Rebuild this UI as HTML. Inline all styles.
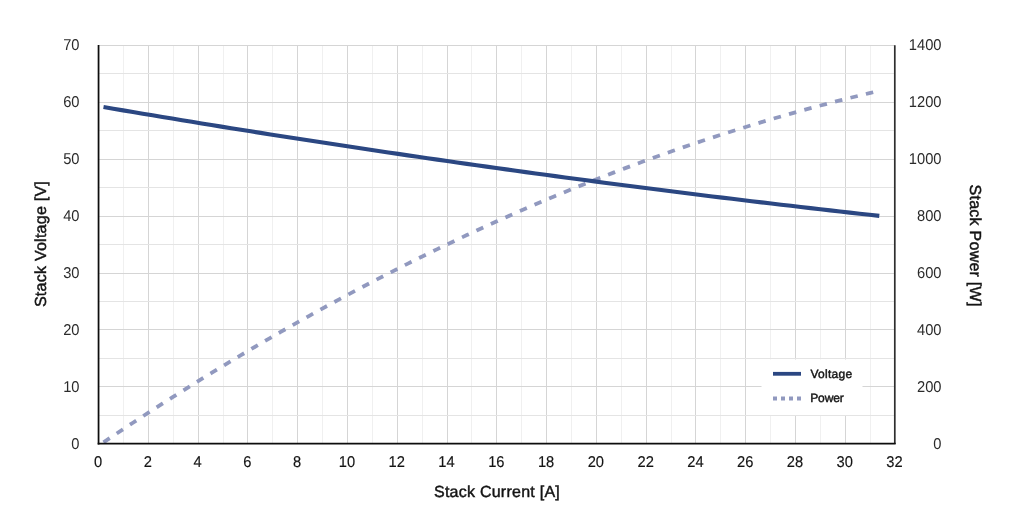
<!DOCTYPE html>
<html><head><meta charset="utf-8"><style>
html,body{margin:0;padding:0;background:#fff;}
body{width:1022px;height:521px;overflow:hidden;}
svg{display:block;will-change:transform;text-rendering:geometricPrecision;font-family:"Liberation Sans",sans-serif;}
</style></head><body>
<svg width="1022" height="521" viewBox="0 0 1022 521">
<rect width="1022" height="521" fill="#fff"/>
<g><line x1="123.5" y1="45" x2="123.5" y2="443" stroke="#f0f0f0" stroke-width="1"/><line x1="148.5" y1="45" x2="148.5" y2="443" stroke="#d5d5d5" stroke-width="1"/><line x1="173.5" y1="45" x2="173.5" y2="443" stroke="#f0f0f0" stroke-width="1"/><line x1="198.5" y1="45" x2="198.5" y2="443" stroke="#d5d5d5" stroke-width="1"/><line x1="223.5" y1="45" x2="223.5" y2="443" stroke="#f0f0f0" stroke-width="1"/><line x1="247.5" y1="45" x2="247.5" y2="443" stroke="#d5d5d5" stroke-width="1"/><line x1="272.5" y1="45" x2="272.5" y2="443" stroke="#f0f0f0" stroke-width="1"/><line x1="297.5" y1="45" x2="297.5" y2="443" stroke="#d5d5d5" stroke-width="1"/><line x1="322.5" y1="45" x2="322.5" y2="443" stroke="#f0f0f0" stroke-width="1"/><line x1="347.5" y1="45" x2="347.5" y2="443" stroke="#d5d5d5" stroke-width="1"/><line x1="372.5" y1="45" x2="372.5" y2="443" stroke="#f0f0f0" stroke-width="1"/><line x1="397.5" y1="45" x2="397.5" y2="443" stroke="#d5d5d5" stroke-width="1"/><line x1="422.5" y1="45" x2="422.5" y2="443" stroke="#f0f0f0" stroke-width="1"/><line x1="447.5" y1="45" x2="447.5" y2="443" stroke="#d5d5d5" stroke-width="1"/><line x1="471.5" y1="45" x2="471.5" y2="443" stroke="#f0f0f0" stroke-width="1"/><line x1="496.5" y1="45" x2="496.5" y2="443" stroke="#d5d5d5" stroke-width="1"/><line x1="521.5" y1="45" x2="521.5" y2="443" stroke="#f0f0f0" stroke-width="1"/><line x1="546.5" y1="45" x2="546.5" y2="443" stroke="#d5d5d5" stroke-width="1"/><line x1="571.5" y1="45" x2="571.5" y2="443" stroke="#f0f0f0" stroke-width="1"/><line x1="596.5" y1="45" x2="596.5" y2="443" stroke="#d5d5d5" stroke-width="1"/><line x1="621.5" y1="45" x2="621.5" y2="443" stroke="#f0f0f0" stroke-width="1"/><line x1="646.5" y1="45" x2="646.5" y2="443" stroke="#d5d5d5" stroke-width="1"/><line x1="671.5" y1="45" x2="671.5" y2="443" stroke="#f0f0f0" stroke-width="1"/><line x1="695.5" y1="45" x2="695.5" y2="443" stroke="#d5d5d5" stroke-width="1"/><line x1="720.5" y1="45" x2="720.5" y2="443" stroke="#f0f0f0" stroke-width="1"/><line x1="745.5" y1="45" x2="745.5" y2="443" stroke="#d5d5d5" stroke-width="1"/><line x1="770.5" y1="45" x2="770.5" y2="443" stroke="#f0f0f0" stroke-width="1"/><line x1="795.5" y1="45" x2="795.5" y2="443" stroke="#d5d5d5" stroke-width="1"/><line x1="820.5" y1="45" x2="820.5" y2="443" stroke="#f0f0f0" stroke-width="1"/><line x1="845.5" y1="45" x2="845.5" y2="443" stroke="#d5d5d5" stroke-width="1"/><line x1="870.5" y1="45" x2="870.5" y2="443" stroke="#f0f0f0" stroke-width="1"/><line x1="98" y1="415.5" x2="895" y2="415.5" stroke="#e4e4e4" stroke-width="1"/><line x1="98" y1="386.5" x2="895" y2="386.5" stroke="#d5d5d5" stroke-width="1"/><line x1="98" y1="358.5" x2="895" y2="358.5" stroke="#e4e4e4" stroke-width="1"/><line x1="98" y1="329.5" x2="895" y2="329.5" stroke="#d5d5d5" stroke-width="1"/><line x1="98" y1="301.5" x2="895" y2="301.5" stroke="#e4e4e4" stroke-width="1"/><line x1="98" y1="273.5" x2="895" y2="273.5" stroke="#d5d5d5" stroke-width="1"/><line x1="98" y1="244.5" x2="895" y2="244.5" stroke="#e4e4e4" stroke-width="1"/><line x1="98" y1="216.5" x2="895" y2="216.5" stroke="#d5d5d5" stroke-width="1"/><line x1="98" y1="187.5" x2="895" y2="187.5" stroke="#e4e4e4" stroke-width="1"/><line x1="98" y1="159.5" x2="895" y2="159.5" stroke="#d5d5d5" stroke-width="1"/><line x1="98" y1="130.5" x2="895" y2="130.5" stroke="#e4e4e4" stroke-width="1"/><line x1="98" y1="102.5" x2="895" y2="102.5" stroke="#d5d5d5" stroke-width="1"/><line x1="98" y1="73.5" x2="895" y2="73.5" stroke="#e4e4e4" stroke-width="1"/><line x1="98" y1="45.5" x2="895" y2="45.5" stroke="#d5d5d5" stroke-width="1"/></g>
<rect x="761.5" y="359.5" width="101" height="55.5" fill="#fff"/>
<path d="M103.50,442.33 L113.32,435.74 L123.14,429.21 L132.96,422.74 L142.78,416.32 L152.60,409.96 L162.42,403.65 L172.24,397.39 L182.06,391.19 L191.88,385.04 L201.70,378.95 L211.52,372.91 L221.34,366.93 L231.16,361.00 L240.98,355.13 L250.80,349.31 L260.62,343.54 L270.44,337.83 L280.26,332.18 L290.08,326.58 L299.91,321.03 L309.73,315.54 L319.55,310.10 L329.37,304.72 L339.19,299.39 L349.01,294.11 L358.83,288.89 L368.65,283.73 L378.47,278.62 L388.29,273.56 L398.11,268.56 L407.93,263.62 L417.75,258.72 L427.57,253.89 L437.39,249.10 L447.21,244.38 L457.03,239.70 L466.85,235.08 L476.67,230.52 L486.49,226.01 L496.31,221.55 L506.13,217.15 L515.95,212.81 L525.77,208.51 L535.59,204.28 L545.41,200.09 L555.23,195.96 L565.05,191.89 L574.87,187.87 L584.69,183.91 L594.51,180.00 L604.33,176.15 L614.15,172.37 L623.97,168.64 L633.79,164.96 L643.61,161.34 L653.43,157.78 L663.25,154.27 L673.07,150.81 L682.89,147.41 L692.72,144.06 L702.54,140.77 L712.36,137.53 L722.18,134.35 L732.00,131.22 L741.82,128.15 L751.64,125.13 L761.46,122.16 L771.28,119.25 L781.10,116.40 L790.92,113.59 L800.74,110.85 L810.56,108.15 L820.38,105.52 L830.20,102.93 L840.02,100.41 L849.84,97.93 L859.66,95.51 L869.48,93.15 L879.30,90.84" fill="none" stroke="#9199bf" stroke-width="3.8" stroke-dasharray="7.5 8.4"/>
<path d="M103.50,107.06 L113.32,108.73 L123.14,110.39 L132.96,112.05 L142.78,113.69 L152.60,115.33 L162.42,116.97 L172.24,118.59 L182.06,120.21 L191.88,121.82 L201.70,123.42 L211.52,125.02 L221.34,126.61 L231.16,128.19 L240.98,129.76 L250.80,131.33 L260.62,132.88 L270.44,134.43 L280.26,135.98 L290.08,137.51 L299.91,139.04 L309.73,140.56 L319.55,142.07 L329.37,143.58 L339.19,145.08 L349.01,146.57 L358.83,148.05 L368.65,149.52 L378.47,150.99 L388.29,152.45 L398.11,153.90 L407.93,155.35 L417.75,156.79 L427.57,158.22 L437.39,159.64 L447.21,161.05 L457.03,162.46 L466.85,163.86 L476.67,165.25 L486.49,166.64 L496.31,168.02 L506.13,169.39 L515.95,170.75 L525.77,172.10 L535.59,173.45 L545.41,174.79 L555.23,176.12 L565.05,177.45 L574.87,178.76 L584.69,180.07 L594.51,181.37 L604.33,182.67 L614.15,183.96 L623.97,185.24 L633.79,186.51 L643.61,187.77 L653.43,189.03 L663.25,190.28 L673.07,191.52 L682.89,192.75 L692.72,193.98 L702.54,195.20 L712.36,196.41 L722.18,197.62 L732.00,198.81 L741.82,200.00 L751.64,201.18 L761.46,202.36 L771.28,203.52 L781.10,204.68 L790.92,205.83 L800.74,206.98 L810.56,208.11 L820.38,209.24 L830.20,210.37 L840.02,211.48 L849.84,212.59 L859.66,213.68 L869.48,214.78 L879.30,215.86" fill="none" stroke="#2b4782" stroke-width="4.1"/>
<line x1="894.8" y1="45.2" x2="894.8" y2="444" stroke="#2e2e2e" stroke-width="1.7"/>
<line x1="98.55" y1="45" x2="98.55" y2="444.6" stroke="#0d0d0d" stroke-width="1.75"/>
<line x1="97.7" y1="443.65" x2="895.65" y2="443.65" stroke="#0d0d0d" stroke-width="1.9"/>
<line x1="773" y1="373.8" x2="801" y2="373.8" stroke="#2b4782" stroke-width="3.8"/>
<line x1="773" y1="398.5" x2="801" y2="398.5" stroke="#9199bf" stroke-width="4" stroke-dasharray="4 4"/>
<g font-size="12" fill="#161616" stroke="#161616" stroke-width="0.45">
<text x="810.4" y="378.2" letter-spacing="0.3">Voltage</text>
<text x="810.2" y="401.9" letter-spacing="-0.1">Power</text>
</g>
<g font-size="15" fill="#2b2b2b"><text transform="translate(79.5,448.98) scale(0.98,1.05)" text-anchor="end">0</text><text transform="translate(941.5,448.98) scale(0.98,1.05)" text-anchor="end">0</text><text transform="translate(79.5,391.97) scale(0.98,1.05)" text-anchor="end">10</text><text transform="translate(941.5,391.97) scale(0.98,1.05)" text-anchor="end">200</text><text transform="translate(79.5,334.97) scale(0.98,1.05)" text-anchor="end">20</text><text transform="translate(941.5,334.97) scale(0.98,1.05)" text-anchor="end">400</text><text transform="translate(79.5,277.96) scale(0.98,1.05)" text-anchor="end">30</text><text transform="translate(941.5,277.96) scale(0.98,1.05)" text-anchor="end">600</text><text transform="translate(79.5,220.96) scale(0.98,1.05)" text-anchor="end">40</text><text transform="translate(941.5,220.96) scale(0.98,1.05)" text-anchor="end">800</text><text transform="translate(79.5,163.95) scale(0.98,1.05)" text-anchor="end">50</text><text transform="translate(941.5,163.95) scale(0.98,1.05)" text-anchor="end">1000</text><text transform="translate(79.5,106.94) scale(0.98,1.05)" text-anchor="end">60</text><text transform="translate(941.5,106.94) scale(0.98,1.05)" text-anchor="end">1200</text><text transform="translate(79.5,49.94) scale(0.98,1.05)" text-anchor="end">70</text><text transform="translate(941.5,49.94) scale(0.98,1.05)" text-anchor="end">1400</text></g>
<g font-size="15" fill="#141414" stroke="#141414" stroke-width="0.15"><text transform="translate(98.07,466.8) scale(0.98,1.05)" text-anchor="middle">0</text><text transform="translate(147.85,466.8) scale(0.98,1.05)" text-anchor="middle">2</text><text transform="translate(197.63,466.8) scale(0.98,1.05)" text-anchor="middle">4</text><text transform="translate(247.41,466.8) scale(0.98,1.05)" text-anchor="middle">6</text><text transform="translate(297.19,466.8) scale(0.98,1.05)" text-anchor="middle">8</text><text transform="translate(346.97,466.8) scale(0.98,1.05)" text-anchor="middle">10</text><text transform="translate(396.75,466.8) scale(0.98,1.05)" text-anchor="middle">12</text><text transform="translate(446.53,466.8) scale(0.98,1.05)" text-anchor="middle">14</text><text transform="translate(496.31,466.8) scale(0.98,1.05)" text-anchor="middle">16</text><text transform="translate(546.09,466.8) scale(0.98,1.05)" text-anchor="middle">18</text><text transform="translate(595.87,466.8) scale(0.98,1.05)" text-anchor="middle">20</text><text transform="translate(645.65,466.8) scale(0.98,1.05)" text-anchor="middle">22</text><text transform="translate(695.43,466.8) scale(0.98,1.05)" text-anchor="middle">24</text><text transform="translate(745.21,466.8) scale(0.98,1.05)" text-anchor="middle">26</text><text transform="translate(794.99,466.8) scale(0.98,1.05)" text-anchor="middle">28</text><text transform="translate(844.77,466.8) scale(0.98,1.05)" text-anchor="middle">30</text><text transform="translate(894.55,466.8) scale(0.98,1.05)" text-anchor="middle">32</text></g>
<g font-size="16" fill="#141414" stroke="#141414" stroke-width="0.45" letter-spacing="0.25">
<text x="497" y="497.3" text-anchor="middle">Stack Current [A]</text>
<text transform="translate(46,244) rotate(-90)" text-anchor="middle">Stack Voltage [V]</text>
<text transform="translate(969.5,245.6) rotate(90)" text-anchor="middle">Stack Power [W]</text>
</g>
</svg>
</body></html>
